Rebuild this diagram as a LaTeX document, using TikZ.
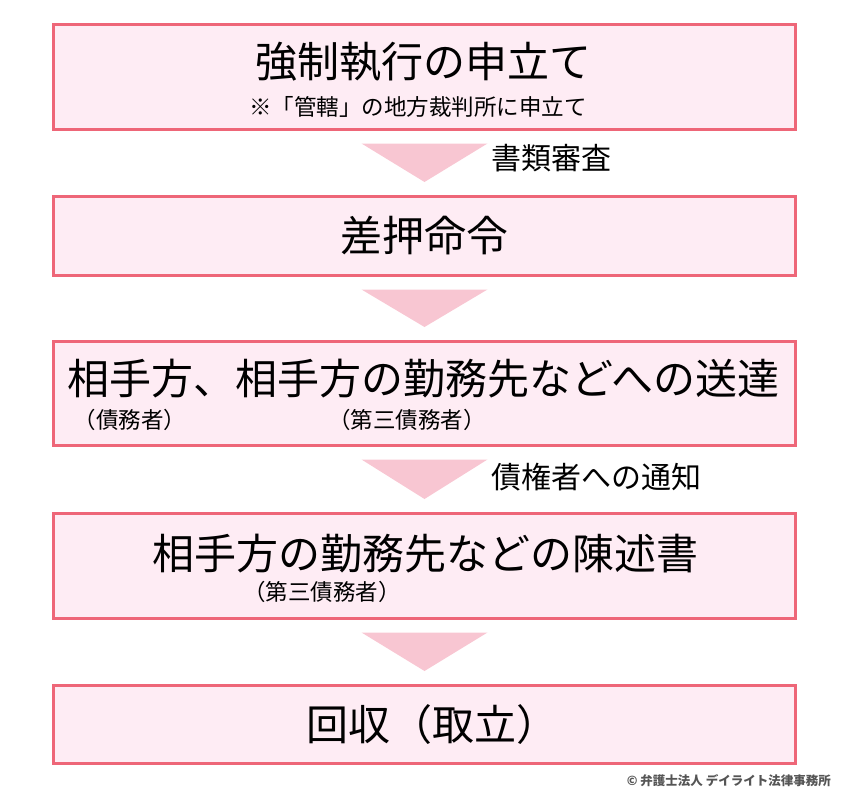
\documentclass[tikz,border=0pt]{standalone}
\usepackage{fontspec}
\setmainfont{Noto Sans CJK JP}
\usetikzlibrary{calc}
\definecolor{rim}{RGB}{238,102,120}
\definecolor{boxfill}{RGB}{254,236,244}
\definecolor{arrowpink}{RGB}{248,198,210}
\definecolor{credit}{RGB}{85,85,85}

\begin{document}
\begin{tikzpicture}[x=1pt, y=-1pt, line join=miter]
    \useasboundingbox (0,0) rectangle (850,798);

    \tikzset{stage/.style={draw=rim, fill=boxfill, line width=3pt, minimum width=742pt, inner sep=0pt},
             title/.style={font=\fontsize{42}{46}\selectfont, inner sep=0pt},
             sub/.style={font=\fontsize{22.5}{26}\selectfont, inner sep=0pt},
             note/.style={font=\fontsize{30}{34}\selectfont, anchor=west, inner sep=0pt},
             down/.style={fill=arrowpink}}

    \node[stage, minimum height=105pt] (S1) at (424.5,77)    {};
    \node[stage, minimum height=79pt]  (S2) at (424.5,236)   {};
    \node[stage, minimum height=104pt] (S3) at (424.5,393.5) {};
    \node[stage, minimum height=105pt] (S4) at (424.5,566)   {};
    \node[stage, minimum height=78pt]  (S5) at (424.5,724.5) {};

    \node[title] (T1) at (423,62)    {強制執行の申立て};
    \node[sub]   (N1) at (418,107)   {※「管轄」の地方裁判所に申立て};
    \node[title] (T2) at (424,236)   {差押命令};
    \node[title] (T3) at (423.5,379) {相手方、相手方の勤務先などへの送達};
    \node[sub]   (N3a) at (130,420)  {（債務者）};
    \node[sub]   (N3b) at (407,420)  {（第三債務者）};
    \node[title] (T4) at (425,554)   {相手方の勤務先などの陳述書};
    \node[sub]   (N4) at (322,592)   {（第三債務者）};
    \node[title] (T5) at (432,724.5) {回収（取立）};

    % arrows between the stages
    \fill[down] ($(S1.south)+(-63,12.5)$) -- ($(S1.south)+(63,12.5)$) -- ($(S2.north)+(0,-13)$) -- cycle;
    \fill[down] ($(S2.south)+(-63,12.5)$) -- ($(S2.south)+(63,12.5)$) -- ($(S3.north)+(0,-13)$) -- cycle;
    \fill[down] ($(S3.south)+(-63,12.5)$) -- ($(S3.south)+(63,12.5)$) -- ($(S4.north)+(0,-13)$) -- cycle;
    \fill[down] ($(S4.south)+(-63,12.5)$) -- ($(S4.south)+(63,12.5)$) -- ($(S5.north)+(0,-13)$) -- cycle;

    \node[note] (L1) at (491,158) {書類審査};
    \node[note] (L3) at (491,477) {債権者への通知};

    \node[anchor=east, inner sep=0pt, text=credit, font=\fontsize{12.5}{14}\selectfont\bfseries] (C) at (831,781)
        {© 弁護士法人 デイライト法律事務所};
\end{tikzpicture}
\end{document}
